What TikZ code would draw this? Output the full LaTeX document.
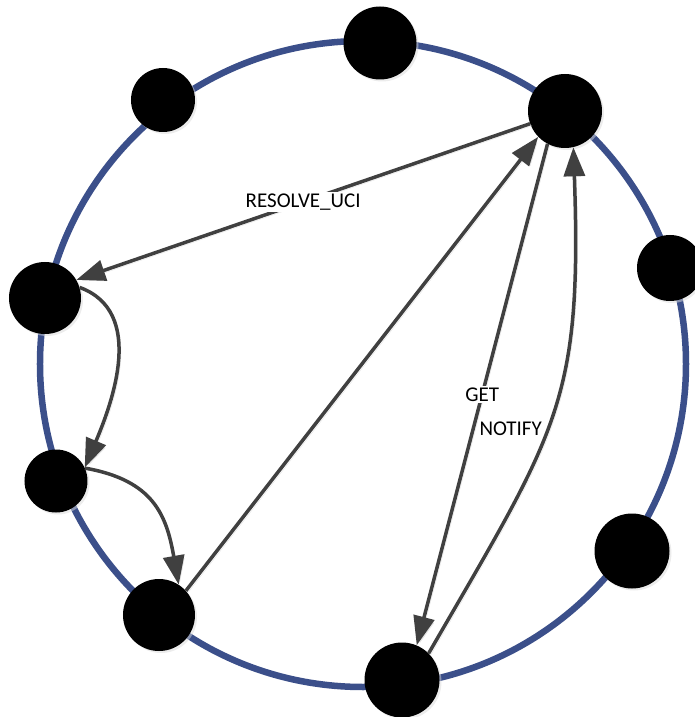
\documentclass[tikz,border=0pt]{standalone}
\usepackage{fontspec}
\setmainfont{Carlito}
\usetikzlibrary{arrows.meta, shadows}

\definecolor{ringblue}{RGB}{59,79,138}
\definecolor{edgegray}{RGB}{64,64,64}

\begin{document}
\begin{tikzpicture}[x=1pt, y=1pt, >={Triangle[length=29pt, width=21pt]}, font=\fontsize{21}{25}\selectfont]

    % Define the styles
    \tikzstyle{peer} = [circle, fill=black, inner sep=0pt, drop shadow={shadow xshift=2pt, shadow yshift=-2pt, fill=black!15}]
    \tikzstyle{ring} = [draw=ringblue, line width=6.5pt]
    \tikzstyle{arrow} = [->, draw=edgegray, line width=3.5pt, preaction={draw=black!10, transform canvas={shift={(2pt,-2pt)}}}]
    \tikzstyle{msg} = [fill=white, inner sep=1.5pt]

    \useasboundingbox (-363,-353) rectangle (332,364);

    % Ring
    \draw [ring] (0,0) circle (323);

    % Nodes
    \node (n1) [peer, minimum size=73pt] at (17,321) {};
    \node (n2) [peer, minimum size=64pt] at (-200,264) {};
    \node (n3) [peer, minimum size=74pt] at (202,253) {};
    \node (n4) [peer, minimum size=66pt] at (307,96) {};
    \node (n5) [peer, minimum size=72pt] at (-318,66) {};
    \node (n6) [peer, minimum size=63pt] at (-307,-117) {};
    \node (n7) [peer, minimum size=72pt] at (-204,-251) {};
    \node (n8) [peer, minimum size=75pt] at (269,-187) {};
    \node (n9) [peer, minimum size=75pt] at (39,-316) {};

    % Arrows
    \draw [arrow] (n3.200) -- node[msg] {RESOLVE\_UCI} (n5.30);
    \draw [arrow] (n5.17) to[out=-20, in=67] (n6.25);
    \draw [arrow] (n6.24) to[out=-10, in=100, looseness=1.2] (n7.57);
    \draw [arrow] (n7.42) -- (n3.224);
    \draw [arrow] (n3.242) -- node[msg] {GET} (n9.67);
    \draw [arrow] (n9.45) to[out=60, in=-88, looseness=1.25] node[msg, pos=0.46, left=2pt] {NOTIFY} (n3.283);

\end{tikzpicture}
\end{document}
